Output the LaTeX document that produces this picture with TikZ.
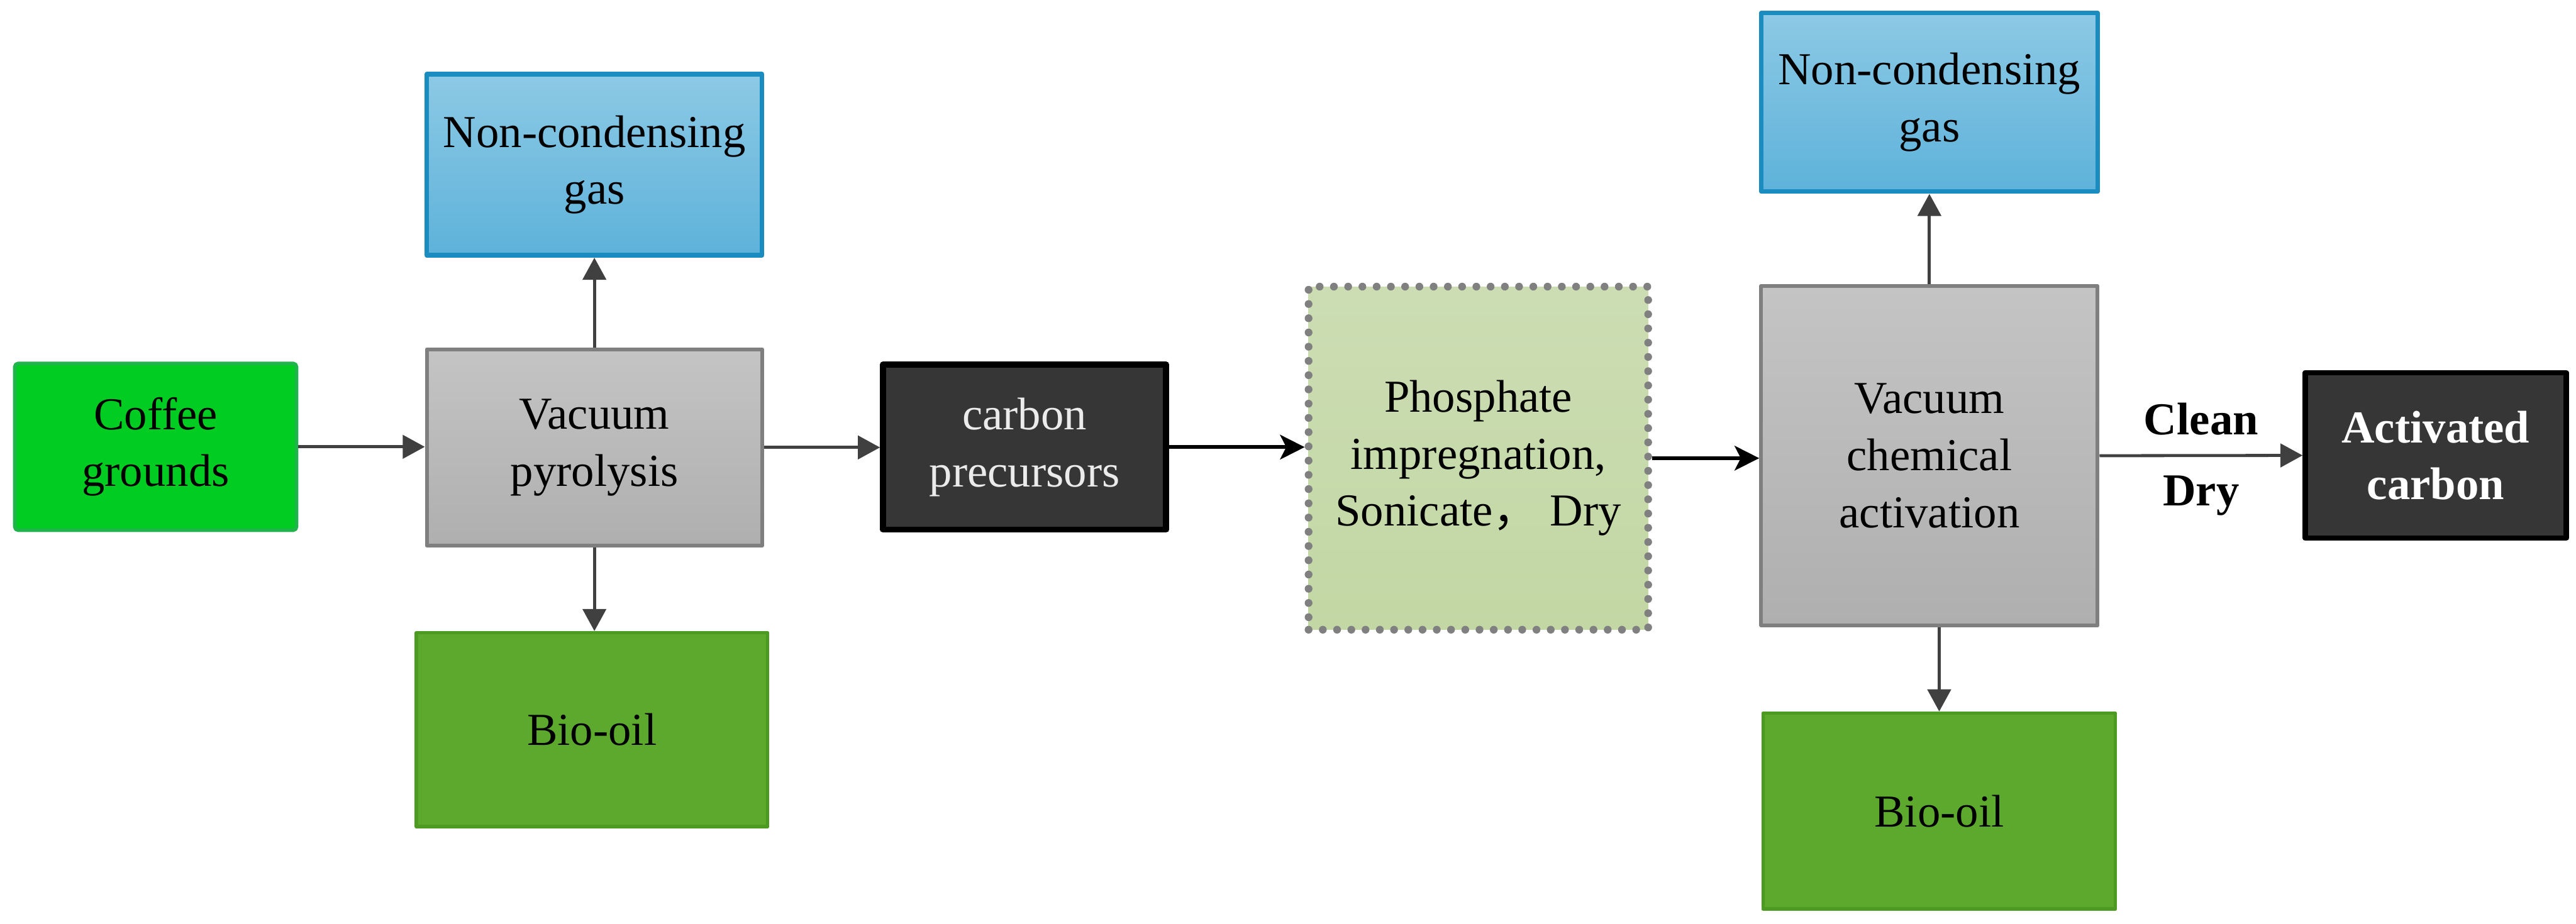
\documentclass[tikz,border=0pt]{standalone}
\usepackage{fontspec}
\setmainfont{Liberation Serif}
\newfontfamily\cjk{Noto Sans CJK SC}
\usetikzlibrary{arrows.meta}
\definecolor{coffeeG}{HTML}{00CC22}
\definecolor{coffeeL}{HTML}{22B44C}
\definecolor{gasT}{HTML}{8CC9E5}
\definecolor{gasB}{HTML}{5EB2DA}
\definecolor{gasL}{HTML}{1A8CC0}
\definecolor{procT}{HTML}{C4C4C4}
\definecolor{procB}{HTML}{AFAFAF}
\definecolor{procL}{HTML}{7F7F7F}
\definecolor{oilG}{HTML}{5DA92D}
\definecolor{oilL}{HTML}{4C9A22}
\definecolor{phosT}{HTML}{CCDDB3}
\definecolor{phosB}{HTML}{C2D7A4}
\definecolor{phosL}{HTML}{808080}
\definecolor{darkbox}{HTML}{363636}
\definecolor{flowline}{HTML}{404040}
\begin{document}
\begin{tikzpicture}[font=\fontsize{10.6}{13.2}\selectfont,line join=round,
 box/.style={rectangle,inner sep=0pt,align=center},
 feed/.style={box,fill=coffeeG,draw=coffeeL,line width=.8pt,rounded corners=.8pt},
 gasbox/.style={box,top color=gasT,bottom color=gasB,draw=gasL,line width=1.1pt},
 proc/.style={box,top color=procT,bottom color=procB,draw=procL,line width=.9pt},
 oilbox/.style={box,fill=oilG,draw=oilL,line width=.8pt},
 darkstep/.style={box,fill=darkbox,draw=black,line width=1.4pt},
 phosbox/.style={box,top color=phosT,bottom color=phosB,draw=phosL,line width=1.8pt,
  line cap=round,dash pattern=on 0pt off 3.3pt},
 flow/.style={flowline,line width=.7pt,-{Triangle[length=.18cm,width=.19cm]}},
 bflow/.style={black,line width=.9pt,-{Stealth[length=.2cm,width=.2cm,inset=.05cm]}},
 steplabel/.style={text=black,font=\fontsize{10.6}{13.2}\selectfont\bfseries}]
\useasboundingbox (0,0) rectangle (20.975,-7.525);
% first stage: pyrolysis of the grounds
\node[feed,minimum width=2.295cm,minimum height=1.36cm] (coffee) at (1.2675,-3.64) {Coffee\\grounds};
\node[proc,minimum width=2.73cm,minimum height=1.6cm] (pyro) at (4.84,-3.645) {Vacuum\\pyrolysis};
\node[gasbox,minimum width=2.73cm,minimum height=1.475cm] (gasA) at (4.84,-1.3425) {Non-condensing\\gas};
\node[oilbox,minimum width=2.86cm,minimum height=1.58cm] (oilA) at (4.82,-5.945) {Bio-oil};
\node[darkstep,minimum width=2.305cm,minimum height=1.345cm,text=white!92!black] (prec) at (8.3425,-3.6425) {carbon\\precursors};
% second stage: impregnation and chemical activation
\node[phosbox,minimum width=2.765cm,minimum height=2.795cm] (phos) at (12.0375,-3.7325)
 {Phosphate\\impregnation,\\Sonicate{\cjk ，}\ Dry};
\node[proc,minimum width=2.74cm,minimum height=2.765cm] (activ) at (15.71,-3.7125) {Vacuum\\chemical\\activation};
\node[gasbox,minimum width=2.74cm,minimum height=1.455cm] (gasB) at (15.71,-.8325) {Non-condensing\\gas};
\node[oilbox,minimum width=2.87cm,minimum height=1.595cm] (oilB) at (15.79,-6.6075) {Bio-oil};
\node[darkstep,minimum width=2.125cm,minimum height=1.35cm,line width=1.2pt,text=white,font=\fontsize{10.6}{13.2}\selectfont\bfseries] (actc) at (19.8325,-3.71) {Activated\\carbon};
% connectors
\draw[flow] (coffee.east) -- (coffee.east -| pyro.west);
\draw[flow] (pyro.north) -- (gasA.south);
\draw[flow] (pyro.south) -- (oilA.north -| pyro.south);
\draw[flow] (pyro.east) -- (pyro.east -| prec.west);
\draw[bflow] (prec.east) -- (prec.east -| phos.west);
\draw[bflow] (phos.east) -- (phos.east -| activ.west);
\draw[flow] (activ.north) -- (gasB.south);
\draw[flow] (oilB.north |- activ.south) -- (oilB.north);
\draw[flow] (activ.east) -- (actc.west)
 node[midway,above=1pt,steplabel] {Clean}
 node[midway,below=1pt,steplabel] {Dry};
\end{tikzpicture}
\end{document}
